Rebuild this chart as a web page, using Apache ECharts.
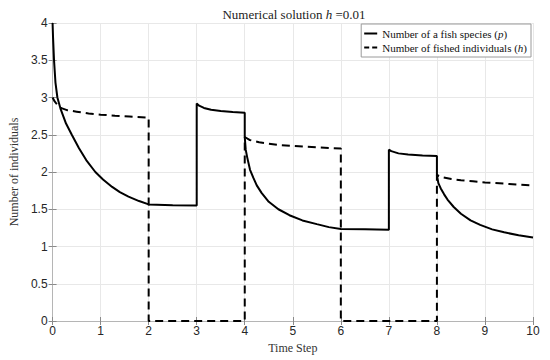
<!DOCTYPE html>
<html>
<head>
<meta charset="utf-8">
<script src="https://cdn.jsdelivr.net/npm/echarts@6/dist/echarts.min.js"></script>
<style>html,body{margin:0;padding:0;background:#fff;}#c{width:550px;height:360px;}</style>
</head>
<body>
<div id="c"></div>
<script>
// Data: [time, value]
var fishSpecies = [
  [0,4.0],[0.01,3.8],[0.03,3.5],[0.06,3.2],[0.1,3.0],[0.17,2.84],[0.28,2.65],[0.4,2.5],
  [0.55,2.32],[0.7,2.16],[0.89,2.0],[1.05,1.9],[1.24,1.8],[1.4,1.73],[1.58,1.67],[1.8,1.61],[2.0,1.565],
  [2.5,1.555],[3.0,1.55],
  [3.0,2.92],[3.05,2.89],[3.15,2.86],[3.3,2.835],[3.5,2.82],[3.75,2.805],[4.0,2.795],
  [4.0,2.47],[4.02,2.3],[4.05,2.2],[4.11,2.03],[4.18,1.92],[4.25,1.82],[4.35,1.72],[4.5,1.6],
  [4.7,1.5],[4.93,1.42],[5.2,1.35],[5.5,1.3],[5.75,1.26],[6.0,1.235],
  [6.5,1.23],[7.0,1.225],
  [7.0,2.30],[7.05,2.28],[7.2,2.25],[7.4,2.235],[7.7,2.22],[8.0,2.215],
  [8.0,1.96],[8.03,1.85],[8.08,1.78],[8.15,1.7],[8.22,1.63],[8.35,1.53],[8.5,1.44],[8.7,1.35],
  [8.9,1.29],[9.15,1.23],[9.4,1.19],[9.7,1.15],[10,1.12]
];
var fishedIndividuals = [
  [0,3.0],[0.04,2.95],[0.1,2.9],[0.17,2.86],[0.3,2.83],[0.5,2.81],[0.75,2.785],[1.0,2.77],
  [1.3,2.755],[1.6,2.745],[2.0,2.73],
  [2.0,0],[4.0,0],
  [4.0,2.47],[4.1,2.43],[4.3,2.4],[4.5,2.38],[4.75,2.36],[5.0,2.35],[5.5,2.33],[6.0,2.315],
  [6.0,0],[8.0,0],
  [8.0,1.96],[8.1,1.93],[8.3,1.905],[8.5,1.89],[8.75,1.875],[9.0,1.86],[9.5,1.84],[10,1.82]
];
var xTicks = {min:0, max:10, interval:1};
var yTicks = {min:0, max:4, interval:0.5};
var seriesNames = ['Number of a fish species', 'Number of fished individuals'];
var seriesVars = ['p', 'h'];

var serif = '"Liberation Serif", "DejaVu Serif", serif';
var sans = '"Liberation Sans", Arial, sans-serif';
var chart = echarts.init(document.getElementById('c'), null, {renderer:'svg'});
var hiddenAxis = {
  axisLine:{show:true, lineStyle:{color:'#b5b5b5', width:1}},
  axisTick:{show:true, inside:true, length:4, lineStyle:{color:'#8a8a8a'}},
  axisLabel:{show:false}, splitLine:{show:false}
};
chart.setOption({
  animation:false,
  backgroundColor:'#fff',
  title:{
    text:'{n|Numerical solution }{i|h}{n| =0.01}',
    left:289, top:3, textAlign:'center',
    textStyle:{fontWeight:'normal', rich:{
      n:{fontFamily:serif, fontSize:13, fontWeight:'normal', color:'#222'},
      i:{fontFamily:serif, fontSize:13, fontWeight:'normal', fontStyle:'italic', color:'#222'}
    }}
  },
  grid:{left:46, right:17, top:23, bottom:39, show:false},
  legend:{
    orient:'vertical', right:19, top:24,
    padding:[4,4,4,3], itemGap:3, itemWidth:13, itemHeight:2,
    borderColor:'#9a9a9a', borderWidth:1, backgroundColor:'#fff',
    data:[
      {name:seriesNames[0], icon:'path://M0,0H13V2H0Z'},
      {name:seriesNames[1], icon:'path://M0,0H5V2H0Z M8,0H13V2H8Z'}
    ],
    itemStyle:{color:'#000', borderWidth:0},
    formatter:function(name){
      var k = seriesNames.indexOf(name);
      return '{n|' + name + ' (}{i|' + seriesVars[k] + '}{n|)}';
    },
    textStyle:{rich:{
      n:{fontFamily:serif, fontSize:11, color:'#111'},
      i:{fontFamily:serif, fontSize:11, fontStyle:'italic', color:'#111'}
    }}
  },
  xAxis:[{
    type:'value', min:xTicks.min, max:xTicks.max, interval:xTicks.interval,
    name:'Time Step', nameLocation:'middle', nameGap:17,
    nameTextStyle:{fontFamily:serif, fontSize:12, color:'#333'},
    axisLine:{show:true, onZero:false, lineStyle:{color:'#b5b5b5', width:1}},
    axisTick:{show:true, inside:true, length:4, lineStyle:{color:'#8a8a8a'}},
    axisLabel:{fontFamily:sans, fontSize:12, color:'#262626', margin:4},
    splitLine:{show:true, lineStyle:{color:'#e8e8e8', width:1}}
  }, Object.assign({type:'value', position:'top', min:xTicks.min, max:xTicks.max, interval:xTicks.interval}, hiddenAxis)],
  yAxis:[{
    type:'value', min:yTicks.min, max:yTicks.max, interval:yTicks.interval,
    name:'Number of individuals', nameLocation:'middle', nameGap:19,
    nameTextStyle:{fontFamily:serif, fontSize:12, color:'#333'},
    axisLine:{show:true, lineStyle:{color:'#b5b5b5', width:1}},
    axisTick:{show:true, inside:true, length:4, lineStyle:{color:'#8a8a8a'}},
    axisLabel:{fontFamily:sans, fontSize:12, color:'#262626', margin:5},
    splitLine:{show:true, lineStyle:{color:'#e8e8e8', width:1}}
  }, Object.assign({type:'value', position:'right', min:yTicks.min, max:yTicks.max, interval:yTicks.interval}, hiddenAxis)],
  series:[
    {name:seriesNames[0], type:'line', data:fishSpecies, symbol:'none', smooth:false,
     lineStyle:{color:'#000', width:2}, itemStyle:{color:'#000'}, z:3},
    {name:seriesNames[1], type:'line', data:fishedIndividuals, symbol:'none', smooth:false,
     lineStyle:{color:'#000', width:2, type:[8,5]}, itemStyle:{color:'#000'}, z:2}
  ]
});
</script>
</body>
</html>
